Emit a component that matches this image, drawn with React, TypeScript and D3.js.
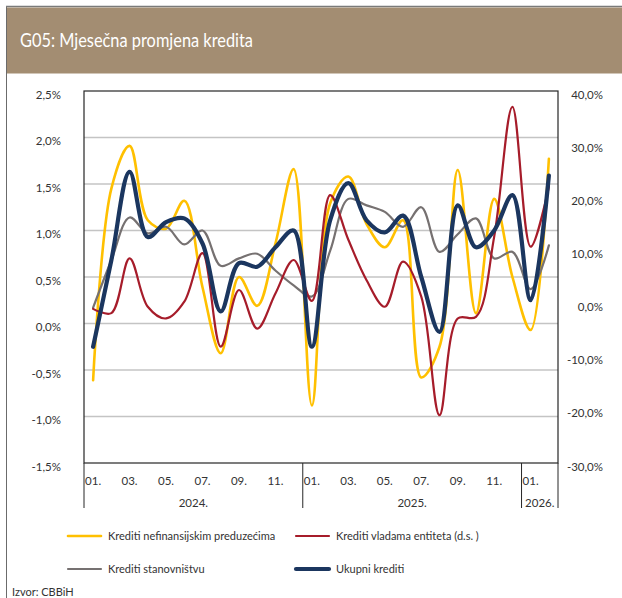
import React from "react";
import * as d3 from "d3";

const months = [
  "01.", "02.", "03.", "04.", "05.", "06.", "07.", "08.", "09.", "10.", "11.", "12.",
  "01.", "02.", "03.", "04.", "05.", "06.", "07.", "08.", "09.", "10.", "11.", "12.",
  "01.", "02.",
];
const years = [
  { label: "2024.", start: 0, end: 12 },
  { label: "2025.", start: 12, end: 24 },
  { label: "2026.", start: 24, end: 26 },
];
const leftTicks = [-1.5, -1.0, -0.5, 0, 0.5, 1.0, 1.5, 2.0, 2.5];
const rightTicks = [-30, -20, -10, 0, 10, 20, 30, 40];

// % monthly change (left axis)
const nefinansijska = [
  -0.61, 1.45, 1.91, 1.11, 1.02, 1.32, 0.39, -0.32, 0.5, 0.19, 0.86, 1.66,
  -0.88, 1.29, 1.58, 1.07, 0.82, 1.11, -0.58, -0.25, 1.65, 0.11, 1.34, 0.5,
  -0.07, 1.77,
];
const stanovnistvo = [
  0.17, 0.68, 1.14, 0.97, 1.04, 0.85, 1.0, 0.62, 0.7, 0.75, 0.57, 0.41,
  0.29, 0.78, 1.34, 1.27, 1.2, 1.04, 1.25, 0.77, 0.96, 1.13, 0.7, 0.77,
  0.37, 0.84,
];
const ukupno = [
  -0.25, 0.68, 1.63, 0.93, 1.09, 1.13, 0.86, 0.13, 0.65, 0.61, 0.82, 1.0,
  -0.25, 1.11, 1.51, 1.11, 0.98, 1.16, 0.5, -0.09, 1.27, 0.82, 1.0, 1.38,
  0.25, 1.59,
];
// right axis (d.s.)
const vlade = [
  -1.0, -1.8, 8.5, -0.6, -2.8, 0.35, 9.5, -8.1, 2.55, -4.7, 1.9, 8.2,
  0.5, 20.4, 12.0, 4.4, -0.6, 7.9, 1.3, -21, -2.8, -2.5, 12.6, 37, 10.7,
  22,
];

const fmtL = (v: number) => v.toFixed(1).replace(".", ",") + "%";
const fmtR = (v: number) => v.toFixed(1).replace(".", ",") + "%";

export default function App() {
  const W = 622;
  const H = 598;
  const plot = { left: 84, right: 558, top: 91, bottom: 463 };
  const font = "Lato, 'Open Sans', sans-serif";

  const x = d3
    .scaleBand<number>()
    .domain(d3.range(months.length))
    .range([plot.left, plot.right])
    .padding(0);
  const xc = (i: number) => (x(i) as number) + x.bandwidth() / 2;
  const yL = d3.scaleLinear().domain([-1.5, 2.5]).range([plot.bottom, plot.top]);
  const yR = d3.scaleLinear().domain([-30, 40]).range([plot.bottom, plot.top]);

  const curve = d3.curveCatmullRom.alpha(0.5);
  const lineL = d3
    .line<number>()
    .x((_, i) => xc(i))
    .y((d) => yL(d))
    .curve(curve);
  const lineR = d3
    .line<number>()
    .x((_, i) => xc(i))
    .y((d) => yR(d))
    .curve(curve);

  const series = [
    { name: "Krediti nefinansijskim preduzećima", data: nefinansijska, color: "#FFC000", w: 2.6, right: false },
    { name: "Krediti stanovništvu", data: stanovnistvo, color: "#767171", w: 2.2, right: false },
    { name: "Krediti vladama entiteta (d.s. )", data: vlade, color: "#A61C2A", w: 2.2, right: true },
    { name: "Ukupni krediti", data: ukupno, color: "#1B365F", w: 4.2, right: false },
  ];

  const legend = [
    { s: series[0], x: 68, y: 536 },
    { s: series[2], x: 296, y: 536 },
    { s: series[1], x: 68, y: 569 },
    { s: series[3], x: 296, y: 569 },
  ];

  const sepIdx = [0, 12, 24, 26];

  return (
    <svg width={W} height={H} style={{ position: "absolute", left: 0, top: 0, display: "block" }}>
      <rect x={0} y={0} width={W} height={H} fill="#ffffff" />
      {/* frame */}
      <line x1={6.5} y1={7} x2={6.5} y2={H} stroke="#6b6b6b" strokeWidth={1} />
      <line x1={6} y1={6.5} x2={W} y2={6.5} stroke="#7a7a7a" strokeWidth={1.5} />
      {/* header */}
      <rect x={7} y={7.5} width={W - 7} height={66} fill="#A38D72" />
      <text
        x={20}
        y={47}
        fill="#ffffff"
        fontFamily={font}
        fontSize={19.5}
        textLength={233}
        lengthAdjust="spacingAndGlyphs"
      >
        G05: Mjesečna promjena kredita
      </text>

      {/* grid */}
      {leftTicks.slice(1, -1).map((t) => (
        <line
          key={"g" + t}
          x1={plot.left}
          x2={plot.right}
          y1={yL(t)}
          y2={yL(t)}
          stroke="#C4C4C4"
          strokeWidth={1.5}
        />
      ))}

      {/* series */}
      {series.map((s) => (
        <path
          key={s.name}
          d={(s.right ? lineR(s.data) : lineL(s.data)) as string}
          fill="none"
          stroke={s.color}
          strokeWidth={s.w}
          strokeLinejoin="round"
          strokeLinecap="round"
        />
      ))}

      {/* plot frame */}
      <rect
        x={plot.left}
        y={plot.top}
        width={plot.right - plot.left}
        height={plot.bottom - plot.top}
        fill="none"
        stroke="#262626"
        strokeWidth={1.2}
      />

      {/* left axis labels */}
      {leftTicks.map((t) => (
        <text
          key={"l" + t}
          x={61}
          y={yL(t) + 7.5}
          textAnchor="end"
          fontFamily={font}
          fontSize={11.5}
          fill="#333"
        >
          {fmtL(t)}
        </text>
      ))}
      {/* right axis labels */}
      {rightTicks.map((t) => (
        <text
          key={"r" + t}
          x={603}
          y={yR(t) + 7.5}
          textAnchor="end"
          fontFamily={font}
          fontSize={11.5}
          fill="#333"
        >
          {fmtR(t)}
        </text>
      ))}

      {/* x axis */}
      {sepIdx.map((i) => {
        const xx = i < months.length ? (x(i) as number) : plot.right;
        return (
          <line
            key={"s" + i}
            x1={xx}
            x2={xx}
            y1={plot.bottom}
            y2={508}
            stroke="#262626"
            strokeWidth={1}
          />
        );
      })}
      {months.map((m, i) =>
        i % 2 === 0 ? (
          <text
            key={"m" + i}
            x={xc(i)}
            y={485}
            textAnchor="middle"
            fontFamily={font}
            fontSize={11.5}
            fill="#333"
          >
            {m}
          </text>
        ) : null
      )}
      {years.map((yv) => {
        const x0 = x(yv.start) as number;
        const x1 = yv.end < months.length ? (x(yv.end) as number) : plot.right;
        return (
          <text
            key={yv.label}
            x={(x0 + x1) / 2}
            y={507}
            textAnchor="middle"
            fontFamily={font}
            fontSize={11.5}
            fill="#333"
          >
            {yv.label}
          </text>
        );
      })}

      {/* legend */}
      {legend.map((l) => (
        <g key={"lg" + l.s.name}>
          <line
            x1={l.x}
            x2={l.x + 33}
            y1={l.y}
            y2={l.y}
            stroke={l.s.color}
            strokeWidth={l.s.w}
            strokeLinecap="round"
          />
          <text x={l.x + 40} y={l.y + 4} fontFamily={font} fontSize={11} fill="#333">
            {l.s.name}
          </text>
        </g>
      ))}
      <text x={12} y={596} fontFamily={font} fontSize={11} fill="#333">
        Izvor: CBBiH
      </text>
    </svg>
  );
}
